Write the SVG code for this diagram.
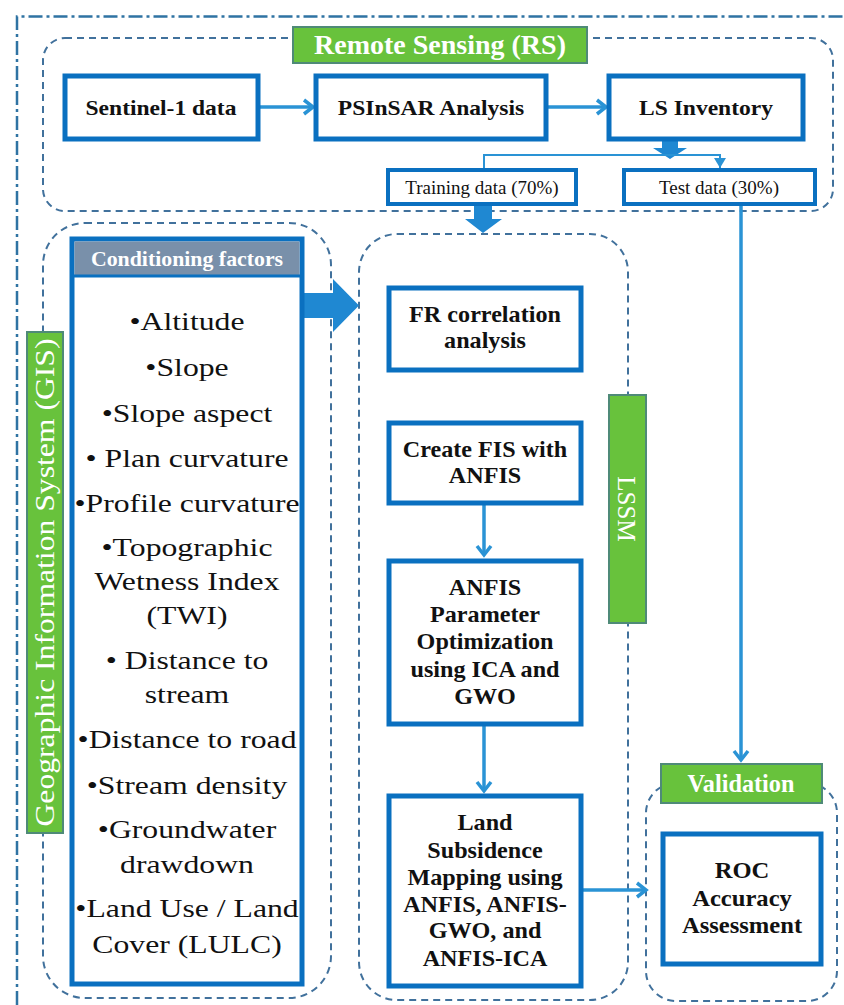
<svg xmlns="http://www.w3.org/2000/svg" width="844" height="1005" viewBox="0 0 844 1005">
<defs>
<style>
.bg{fill:#ffffff}
.outer{fill:none;stroke:#2f73a3;stroke-width:2.5;stroke-dasharray:14 4 3 4}
.cont{fill:none;stroke:#41719c;stroke-width:2;stroke-dasharray:7 5}
.box{fill:#ffffff;stroke:#0a70c0;stroke-width:5}
.sbox{fill:#ffffff;stroke:#0a70c0;stroke-width:4}
.green{fill:#68c23c;stroke:#4f8a78;stroke-width:2}
.hdr{fill:#7990aa}
.bt{font-family:"Liberation Serif",serif;font-weight:bold;font-size:23px;fill:#111;text-anchor:middle}
.tt{font-family:"Liberation Serif",serif;font-weight:bold;font-size:22px;fill:#111;text-anchor:middle}
.st{font-family:"Liberation Serif",serif;font-size:19px;fill:#111;text-anchor:middle}
.lt{font-family:"Liberation Serif",serif;font-size:26px;fill:#111;text-anchor:middle}
.gt{font-family:"Liberation Serif",serif;font-weight:bold;font-size:25px;fill:#ffffff;text-anchor:middle}
.gn{font-family:"Liberation Serif",serif;font-weight:normal;font-size:27px;fill:#ffffff;text-anchor:middle}
.ht{font-family:"Liberation Serif",serif;font-weight:bold;font-size:21px;fill:#ffffff;text-anchor:middle}
.ln{fill:none;stroke:#2a93d5;stroke-width:3.5}
.thin{fill:none;stroke:#2a93d5;stroke-width:2}
.blk{fill:#1f88d2}
</style>
<marker id="chev" markerUnits="userSpaceOnUse" markerWidth="16" markerHeight="18" refX="12" refY="9" orient="auto">
<path d="M3,2 L12,9 L3,16" fill="none" stroke="#2a93d5" stroke-width="3.5"/>
</marker>
<marker id="tri" markerUnits="userSpaceOnUse" markerWidth="12" markerHeight="12" refX="10" refY="6" orient="auto">
<path d="M0,0 L10,6 L0,12 Z" fill="#2a93d5"/>
</marker>
</defs>
<rect class="bg" x="0" y="0" width="844" height="1005"/>
<path class="outer" d="M17,1005 V16.5 H844"/>

<g id="containers">
<rect id="rs-container" class="cont" x="43" y="38" width="790" height="173" rx="22"/>
<rect id="gis-container" class="cont" x="43" y="223" width="288" height="775" rx="42"/>
<rect id="lssm-container" class="cont" x="359" y="234" width="269" height="766" rx="38"/>
<rect id="validation-container" class="cont" x="646" y="783" width="191" height="218" rx="30"/>
</g>

<g id="connectors">
<line class="ln" x1="258" y1="107" x2="313" y2="107" marker-end="url(#chev)"/>
<line class="ln" x1="546" y1="107" x2="606" y2="107" marker-end="url(#chev)"/>
<polygon class="blk" points="662,139 678,139 678,148 687,148 670,159 653,148 662,148"/>
<polyline class="thin" points="484,168 484,155 720,155 720,168" marker-start="url(#tri)" marker-end="url(#tri)"/>
<polygon class="blk" points="474,204 492,204 492,219 502,219 483,233 465,219 474,219"/>
<polygon class="blk" points="303,293 333,293 333,279 359,305.5 333,332 333,318 303,318"/>
<line class="ln" x1="741" y1="204" x2="741" y2="760" marker-end="url(#chev)"/>
<line class="ln" x1="484" y1="504" x2="484" y2="555" marker-end="url(#chev)"/>
<line class="ln" x1="484" y1="725" x2="484" y2="791" marker-end="url(#chev)"/>
<line class="ln" x1="582" y1="890" x2="646" y2="890" marker-end="url(#chev)"/>
</g>

<g id="rs-label">
<rect class="green" x="293" y="27" width="294" height="36"/>
<text class="gt" x="440" y="54" style="font-size:27px" textLength="252" lengthAdjust="spacingAndGlyphs">Remote Sensing (RS)</text>
</g>
<g id="sentinel">
<rect class="box" x="65" y="76" width="193" height="63"/>
<text class="tt" transform="translate(161,115) scale(1.07,1)">Sentinel-1 data</text>
</g>
<g id="psinsar">
<rect class="box" x="316" y="76" width="230" height="63"/>
<text class="tt" transform="translate(431,115) scale(1.07,1)">PSInSAR Analysis</text>
</g>
<g id="ls-inventory">
<rect class="box" x="609" y="76" width="194" height="63"/>
<text class="tt" transform="translate(706,115) scale(1.07,1)">LS Inventory</text>
</g>
<g id="training">
<rect class="sbox" x="388" y="170" width="188" height="34"/>
<text class="st" x="482" y="194">Training data (70%)</text>
</g>
<g id="test">
<rect class="sbox" x="624" y="170" width="191" height="34"/>
<text class="st" x="719" y="194">Test data (30%)</text>
</g>

<g id="gis-label">
<rect class="green" x="27" y="332" width="36" height="501"/>
<text class="gn" transform="translate(54,582.5) rotate(-90)" x="0" y="0" textLength="488" lengthAdjust="spacingAndGlyphs">Geographic Information System (GIS)</text>
</g>

<g id="conditioning-factors">
<rect class="box" x="72" y="239" width="230" height="745"/>
<rect class="hdr" x="74.5" y="241.5" width="225" height="34"/>
<line x1="72" y1="276" x2="302" y2="276" stroke="#0a70c0" stroke-width="3"/>
<text class="ht" transform="translate(187,266) scale(1.04,1)">Conditioning factors</text>
<g transform="translate(187,0) scale(1.22,1)">
<text class="lt" x="0" y="330">•Altitude</text>
<text class="lt" x="0" y="376">•Slope</text>
<text class="lt" x="0" y="422">•Slope aspect</text>
<text class="lt" x="0" y="467">• Plan curvature</text>
<text class="lt" x="0" y="512">•Profile curvature</text>
<text class="lt" x="0" y="556">•Topographic</text>
<text class="lt" x="0" y="590">Wetness Index</text>
<text class="lt" x="0" y="624">(TWI)</text>
<text class="lt" x="0" y="669">• Distance to</text>
<text class="lt" x="0" y="703">stream</text>
<text class="lt" x="0" y="748">•Distance to road</text>
<text class="lt" x="0" y="794">•Stream density</text>
<text class="lt" x="0" y="838">•Groundwater</text>
<text class="lt" x="0" y="873">drawdown</text>
<text class="lt" x="0" y="917">•Land Use / Land</text>
<text class="lt" x="0" y="953">Cover (LULC)</text>
</g>
</g>

<g id="fr-correlation">
<rect class="box" x="389" y="288" width="192" height="82"/>
<g transform="translate(485,0) scale(1.05,1)">
<text class="bt" x="0" y="322">FR correlation</text>
<text class="bt" x="0" y="348">analysis</text>
</g>
</g>
<g id="create-fis">
<rect class="box" x="389" y="423" width="192" height="80"/>
<g transform="translate(485,0) scale(1.05,1)">
<text class="bt" x="0" y="457">Create FIS with</text>
<text class="bt" x="0" y="483">ANFIS</text>
</g>
</g>
<g id="lssm-label">
<rect class="green" x="609" y="395" width="37" height="228"/>
<text class="gn" transform="translate(618,509) rotate(90)" x="0" y="0" style="font-size:25px">LSSM</text>
</g>
<g id="anfis-param">
<rect class="box" x="389" y="561" width="192" height="163"/>
<g transform="translate(485,0) scale(1.05,1)">
<text class="bt" x="0" y="595">ANFIS</text>
<text class="bt" x="0" y="622">Parameter</text>
<text class="bt" x="0" y="649">Optimization</text>
<text class="bt" x="0" y="677">using ICA and</text>
<text class="bt" x="0" y="704">GWO</text>
</g>
</g>
<g id="land-subsidence">
<rect class="box" x="389" y="796" width="192" height="190"/>
<g transform="translate(485,0) scale(1.05,1)">
<text class="bt" x="0" y="830">Land</text>
<text class="bt" x="0" y="858">Subsidence</text>
<text class="bt" x="0" y="885">Mapping using</text>
<text class="bt" x="0" y="912">ANFIS, ANFIS-</text>
<text class="bt" x="0" y="938">GWO, and</text>
<text class="bt" x="0" y="966">ANFIS-ICA</text>
</g>
</g>
<g id="validation-label">
<rect class="green" x="661" y="764" width="161" height="39"/>
<text class="gt" x="741" y="792" textLength="107" lengthAdjust="spacingAndGlyphs">Validation</text>
</g>
<g id="roc">
<rect class="box" x="663" y="834" width="158" height="130"/>
<g transform="translate(742,0) scale(1.07,1)">
<text class="bt" x="0" y="878">ROC</text>
<text class="bt" x="0" y="906">Accuracy</text>
<text class="bt" x="0" y="933">Assessment</text>
</g>
</g>
</svg>
